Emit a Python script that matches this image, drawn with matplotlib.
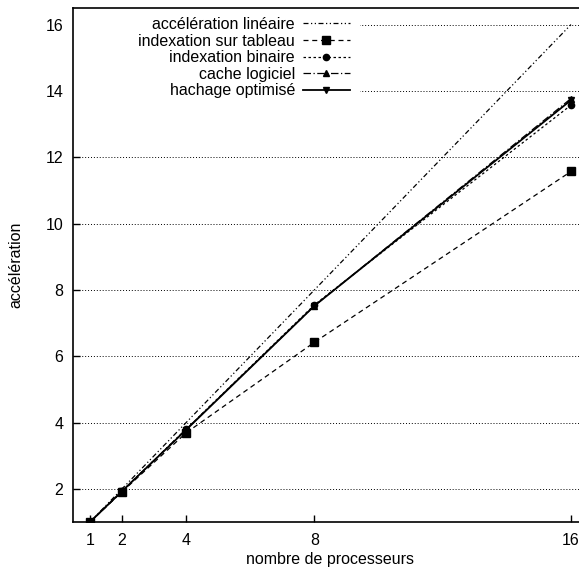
import matplotlib
matplotlib.use("Agg")
import matplotlib.pyplot as plt
from matplotlib.patches import Rectangle

plt.rcParams['font.family'] = ['Liberation Sans', 'DejaVu Sans']

procs = [1, 2, 4, 8, 16]
linear = [1, 2, 4, 8, 16]
tableau = [1.0, 1.91, 3.69, 6.42, 11.57]
binaire = [1.0, 1.93, 3.80, 7.55, 13.57]
cache = [1.0, 1.93, 3.80, 7.52, 13.77]
hachage = [1.0, 1.93, 3.78, 7.52, 13.72]

labels = ["accélération linéaire", "indexation sur tableau", "indexation binaire",
          "cache logiciel", "hachage optimisé"]
yticks = [2, 4, 6, 8, 10, 12, 14, 16]

FS = 11.5
W, H = 579, 574
fig = plt.figure(figsize=(W / 100, H / 100), dpi=100)
left, right, top, bottom = 73, 587, 8, 522
ax = fig.add_axes([left / W, 1 - bottom / H, (right - left) / W, (bottom - top) / H])

ax.plot(procs, linear, color='black', lw=0.9, linestyle=(0, (4, 2, 1, 2, 1, 2)), label=labels[0])
ax.plot(procs, tableau, color='black', lw=0.9, linestyle=(0, (4, 3)), marker='s', ms=6,
        label=labels[1])
ax.plot(procs, binaire, color='black', lw=0.9, linestyle=(0, (2, 2)), marker='o', ms=4.5,
        label=labels[2])
ax.plot(procs, cache, color='black', lw=0.9, linestyle=(0, (6, 2, 1, 2)), marker='^', ms=4.5,
        label=labels[3])
ax.plot(procs, hachage, color='black', lw=1.3, linestyle='-', marker='v', ms=4.5,
        label=labels[4])

ax.set_xlim(0.47, 16.5)
ax.set_ylim(1.0, 16.5)
ax.set_xticks(procs)
ax.set_yticks(yticks)
ax.tick_params(direction='in', length=5, width=1, labelsize=FS, color='black')
ax.tick_params(axis='x', pad=8)
ax.tick_params(axis='y', pad=7)
ax.yaxis.grid(True, linestyle=(0, (1, 2)), color='black', lw=0.7)
ax.set_axisbelow(True)
for s in ax.spines.values():
    s.set_linewidth(1.2)

# opaque key area hiding the grid behind the legend
key_w = (360 - left) / (right - left)
key_h = (100 - top) / (bottom - top)
ax.add_patch(Rectangle((0, 1 - key_h), key_w, key_h, transform=ax.transAxes,
                       facecolor='white', edgecolor='none', zorder=1))

ax.set_xlabel("nombre de processeurs", fontsize=FS, labelpad=3)
ax.set_ylabel("accélération", fontsize=FS, labelpad=16)

leg = ax.legend(loc='upper right', bbox_to_anchor=(350 / W, 1 - 17 / H),
                bbox_transform=fig.transFigure, markerfirst=False, frameon=False,
                fontsize=FS, handlelength=2.95, handletextpad=0.5, labelspacing=0.1,
                borderpad=0, borderaxespad=0)

fig.savefig("out.png", dpi=100)
